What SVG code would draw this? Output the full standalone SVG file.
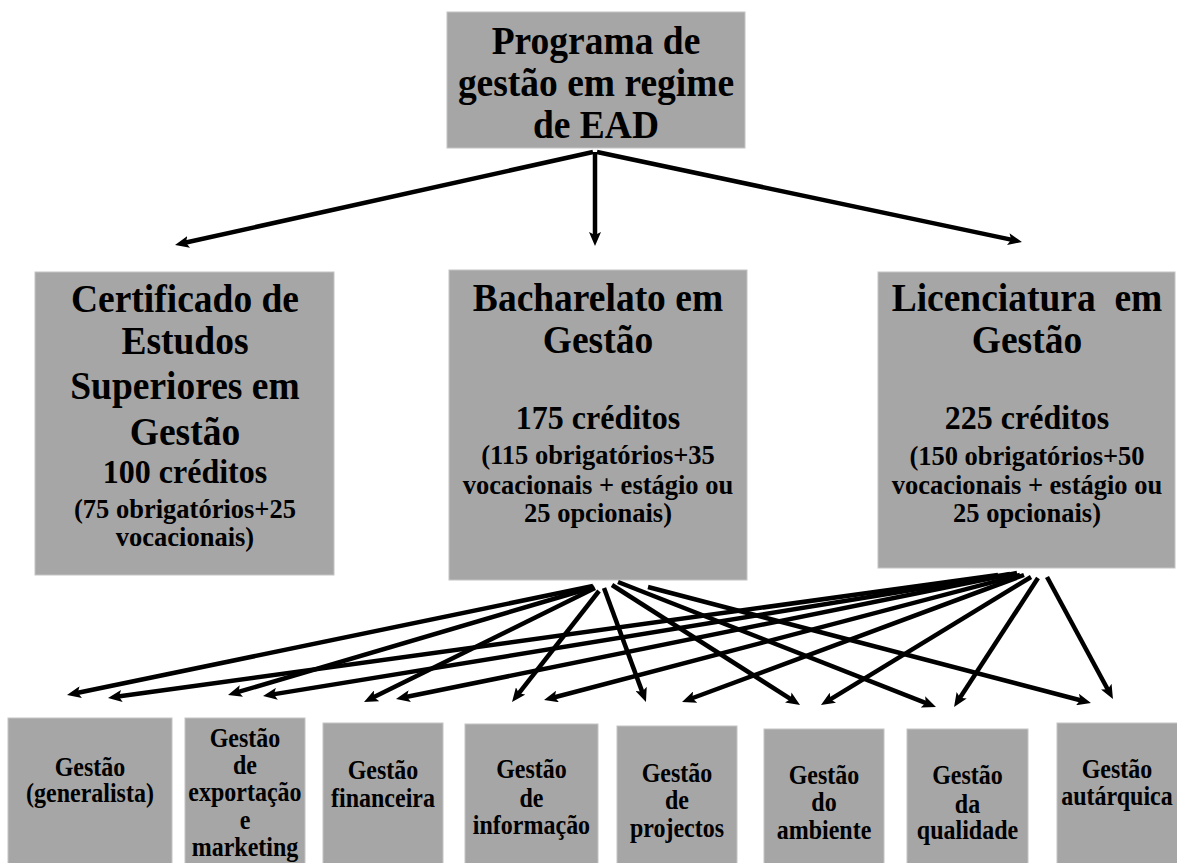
<svg xmlns="http://www.w3.org/2000/svg" width="1177" height="863" viewBox="0 0 1177 863">
<style>
.box{fill:#a6a6a6;stroke:#c4c4c4;stroke-width:1}
.t{font-family:"Liberation Serif","Times New Roman",serif;font-weight:bold;text-anchor:middle;fill:#000;transform-box:fill-box;transform-origin:50% 50%}
.big{font-size:37.5px;transform:scaleY(1.07)}
.cr{font-size:32px;transform:scaleY(1.07)}
.sub{font-size:26.5px;transform:scaleY(1.07)}
.sm{font-size:24px;transform:scaleY(1.1)}
.arr{stroke:#000;stroke-width:4.5;fill:none;marker-end:url(#ah)}
</style>
<defs>
<marker id="ah" markerUnits="userSpaceOnUse" markerWidth="14" markerHeight="12" refX="4" refY="6" orient="auto" viewBox="0 0 14 12">
<path d="M0,0 L14,6 L0,12 L3,6 z" fill="#000"/>
</marker>
</defs>
<rect width="1177" height="863" fill="#fff"/>

<g id="programa">
<rect class="box" x="447" y="12" width="298" height="136"/>
<text class="t big" x="596" y="53">Programa de</text>
<text class="t big" x="596" y="95">gestão em regime</text>
<text class="t big" x="596" y="137">de EAD</text>
</g>

<g id="certificado">
<rect class="box" x="35" y="272" width="299" height="303"/>
<text class="t big" x="185" y="311">Certificado de</text>
<text class="t big" x="185" y="353">Estudos</text>
<text class="t big" x="185" y="398">Superiores em</text>
<text class="t big" x="185" y="444">Gestão</text>
<text class="t cr" x="185" y="482">100 créditos</text>
<text class="t sub" x="185" y="517">(75 obrigatórios+25</text>
<text class="t sub" x="185" y="545">vocacionais)</text>
</g>

<g id="bacharelato">
<rect class="box" x="449" y="270" width="298" height="310"/>
<text class="t big" x="598" y="310">Bacharelato em</text>
<text class="t big" x="598" y="352">Gestão</text>
<text class="t cr" x="598" y="428">175 créditos</text>
<text class="t sub" x="598" y="463">(115 obrigatórios+35</text>
<text class="t sub" x="598" y="493">vocacionais + estágio ou</text>
<text class="t sub" x="598" y="521">25 opcionais)</text>
</g>

<g id="licenciatura">
<rect class="box" x="878" y="272" width="297" height="296"/>
<text class="t big" x="1027" y="310" xml:space="preserve">Licenciatura  em</text>
<text class="t big" x="1027" y="352">Gestão</text>
<text class="t cr" x="1027" y="428">225 créditos</text>
<text class="t sub" x="1027" y="464">(150 obrigatórios+50</text>
<text class="t sub" x="1027" y="493">vocacionais + estágio ou</text>
<text class="t sub" x="1027" y="521">25 opcionais)</text>
</g>

<g id="g-generalista">
<rect class="box" x="8" y="718" width="164" height="150"/>
<text class="t sm" x="90" y="775">Gestão</text>
<text class="t sm" x="90" y="801">(generalista)</text>
</g>

<g id="g-exportacao">
<rect class="box" x="185" y="718" width="120" height="150"/>
<text class="t sm" x="245" y="746">Gestão</text>
<text class="t sm" x="245" y="773">de</text>
<text class="t sm" x="245" y="800">exportação</text>
<text class="t sm" x="245" y="828">e</text>
<text class="t sm" x="245" y="855">marketing</text>
</g>

<g id="g-financeira">
<rect class="box" x="323" y="723" width="120" height="145"/>
<text class="t sm" x="383" y="778">Gestão</text>
<text class="t sm" x="383" y="806">financeira</text>
</g>

<g id="g-informacao">
<rect class="box" x="465" y="724" width="133" height="144"/>
<text class="t sm" x="531.5" y="777">Gestão</text>
<text class="t sm" x="531.5" y="806">de</text>
<text class="t sm" x="531.5" y="833">informação</text>
</g>

<g id="g-projectos">
<rect class="box" x="617" y="726" width="120" height="142"/>
<text class="t sm" x="677" y="781">Gestão</text>
<text class="t sm" x="677" y="808">de</text>
<text class="t sm" x="677" y="836">projectos</text>
</g>

<g id="g-ambiente">
<rect class="box" x="764" y="729" width="120" height="139"/>
<text class="t sm" x="824" y="783">Gestão</text>
<text class="t sm" x="824" y="810">do</text>
<text class="t sm" x="824" y="838">ambiente</text>
</g>

<g id="g-qualidade">
<rect class="box" x="907" y="729" width="121" height="139"/>
<text class="t sm" x="967.5" y="783">Gestão</text>
<text class="t sm" x="967.5" y="812">da</text>
<text class="t sm" x="967.5" y="838">qualidade</text>
</g>

<g id="g-autarquica">
<rect class="box" x="1057" y="723" width="125" height="145"/>
<text class="t sm" x="1117" y="777">Gestão</text>
<text class="t sm" x="1117" y="804">autárquica</text>
</g>

<g id="connectors">
<line class="arr" x1="593" y1="152" x2="184.8" y2="242.8"/>
<line class="arr" x1="595" y1="152" x2="595" y2="236"/>
<line class="arr" x1="597" y1="152" x2="1012.2" y2="239.9"/>

<line class="arr" x1="593" y1="586" x2="76.8" y2="693"/>
<line class="arr" x1="594" y1="587" x2="237.6" y2="692.2"/>
<line class="arr" x1="595" y1="588" x2="373" y2="697.6"/>
<line class="arr" x1="599" y1="591" x2="518.2" y2="694.1"/>
<line class="arr" x1="604" y1="588" x2="642.5" y2="692.6"/>
<line class="arr" x1="612" y1="585" x2="791.6" y2="699.6"/>
<line class="arr" x1="618" y1="582" x2="926.7" y2="703.3"/>
<line class="arr" x1="648" y1="587" x2="1081.3" y2="700.5"/>

<line class="arr" x1="998" y1="575" x2="117.9" y2="696.6"/>
<line class="arr" x1="1010" y1="574" x2="272.9" y2="694.4"/>
<line class="arr" x1="1017" y1="573" x2="405.8" y2="697"/>
<line class="arr" x1="1020" y1="575" x2="553.7" y2="697.5"/>
<line class="arr" x1="1024" y1="575" x2="691.4" y2="698.5"/>
<line class="arr" x1="1031" y1="577" x2="829.5" y2="699.8"/>
<line class="arr" x1="1038" y1="578" x2="959.5" y2="698.6"/>
<line class="arr" x1="1047" y1="577" x2="1108.2" y2="690.2"/>
</g>
</svg>
